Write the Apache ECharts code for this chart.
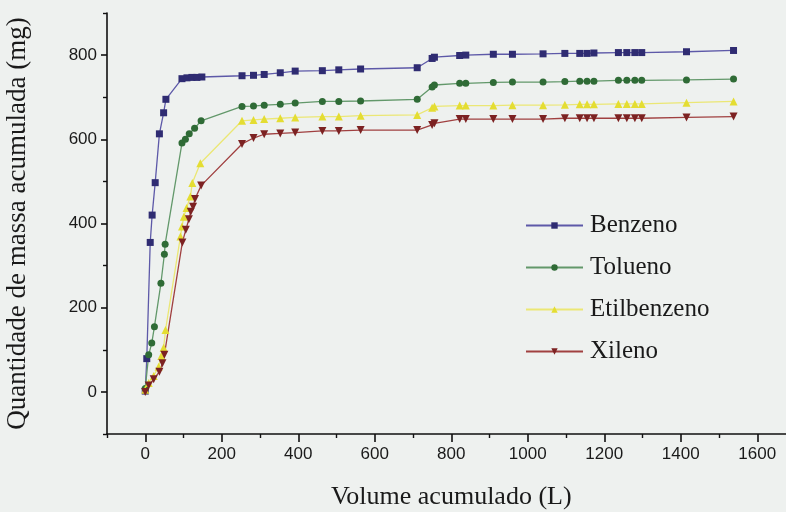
<!DOCTYPE html>
<html>
<head>
<meta charset="utf-8">
<script src="https://cdn.jsdelivr.net/npm/echarts@6/dist/echarts.min.js"></script>
<style>
  html, body { margin: 0; padding: 0; background: #eef1ef; }
  #chart { width: 786px; height: 512px; }
</style>
</head>
<body>
<div id="chart"></div>
<script>
// Shared sampling volumes (L) once the curves have levelled off
const volumeTail = [253, 283, 311, 353, 392, 463, 506, 563, 711, 750, 756, 822, 838, 910, 960, 1040, 1097, 1136, 1155, 1173, 1237, 1259, 1280, 1298, 1415, 1538];

// Early breakthrough phase: volumes (L) and accumulated mass (mg) per compound
const benzenoEarlyVol  = [0, 4, 13, 18, 26, 37, 48, 54, 96, 109, 122, 135, 148];
const benzenoEarlyMass = [2, 79, 355, 420, 497, 613, 663, 695, 744, 746, 747, 747, 748];
const benzenoTailMass  = [751, 752, 754, 758, 762, 763, 765, 767, 770, 792, 795, 799, 800, 802, 802, 803, 804, 804, 804, 805, 806, 806, 806, 806, 808, 811];

const toluenoEarlyVol  = [0, 9, 17, 24, 41, 50, 52, 96, 105, 115, 129, 146];
const toluenoEarlyMass = [8, 88, 116, 155, 258, 327, 351, 591, 600, 613, 626, 644];
const toluenoTailMass  = [678, 679, 681, 683, 686, 690, 690, 691, 695, 724, 729, 733, 733, 735, 736, 736, 737, 738, 738, 738, 740, 740, 740, 740, 741, 743];

const etilEarlyVol  = [0, 9, 22, 35, 42, 48, 53, 92, 96, 101, 108, 118, 123, 144];
const etilEarlyMass = [5, 21, 38, 60, 85, 105, 147, 369, 393, 416, 437, 464, 496, 543];
const etilTailMass  = [644, 646, 648, 650, 652, 654, 654, 656, 658, 675, 678, 680, 680, 680, 681, 681, 682, 683, 683, 683, 684, 684, 684, 684, 687, 690];

const xilenoEarlyVol  = [0, 9, 22, 37, 45, 50, 97, 106, 114, 119, 125, 130, 146];
const xilenoEarlyMass = [0, 15, 30, 48, 68, 88, 355, 385, 410, 428, 440, 458, 490];
const xilenoTailMass  = [589, 603, 612, 614, 616, 620, 620, 622, 622, 634, 638, 648, 648, 648, 648, 648, 650, 650, 650, 650, 650, 650, 650, 650, 652, 654];

// Axis ticks
const xMajorTicks = [0, 200, 400, 600, 800, 1000, 1200, 1400, 1600];
const xMinorTicks = [-100, 100, 300, 500, 700, 900, 1100, 1300, 1500, 1700];
const yMajorTicks = [0, 200, 400, 600, 800];
const yMinorTicks = [-100, 100, 300, 500, 700, 900];

function pairs(earlyVol, earlyMass, tailMass) {
  const out = earlyVol.map((v, i) => [v, earlyMass[i]]);
  volumeTail.forEach((v, i) => out.push([v, tailMass[i]]));
  return out;
}

const serif = '"Liberation Serif", "Times New Roman", serif';
const sans = '"Liberation Sans", Arial, sans-serif';
const plain = (v) => String(v);

function makeSeries(name, data, symbol, size, markColor, lineColor, rotate) {
  return {
    name: name,
    type: 'line',
    data: data,
    symbol: symbol,
    symbolSize: size,
    symbolRotate: rotate || 0,
    showSymbol: true,
    color: markColor,
    itemStyle: { color: markColor, borderWidth: 0 },
    lineStyle: { color: lineColor, width: 1.3 },
    emphasis: { disabled: true },
    animation: false,
    z: 3
  };
}

const chart = echarts.init(document.getElementById('chart'), null, { renderer: 'canvas' });

chart.setOption({
  backgroundColor: '#eef1ef',
  animation: false,
  grid: { left: 107, top: 13, width: 688.5, height: 421, containLabel: false, outerBoundsMode: 'none' },
  legend: {
    orient: 'vertical',
    left: 525,
    top: 213,
    padding: 0,
    itemWidth: 57,
    itemHeight: 8,
    itemGap: 17,
    textStyle: { fontFamily: serif, fontSize: 25, color: '#1a1a1a', lineHeight: 25, padding: [0, 0, 0, 2] },
    data: ['Benzeno', 'Tolueno', 'Etilbenzeno', 'Xileno']
  },
  xAxis: [{
    type: 'value',
    min: -100,
    max: 1700,
    interval: 100,
    position: 'bottom',
    splitLine: { show: false },
    axisLine: { show: true, onZero: false, lineStyle: { color: '#111', width: 1.6 } },
    axisTick: { show: true, inside: false, length: 8, customValues: xMajorTicks, lineStyle: { color: '#111', width: 1.6 } },
    axisLabel: { customValues: xMajorTicks, formatter: plain, margin: 12, fontFamily: sans, fontSize: 17, color: '#1a1a1a' },
    name: 'Volume acumulado (L)',
    nameLocation: 'middle',
    nameGap: 50,
    nameTextStyle: { fontFamily: serif, fontSize: 26, color: '#1a1a1a' }
  }, {
    type: 'value',
    min: -100,
    max: 1700,
    position: 'bottom',
    splitLine: { show: false },
    axisLine: { show: false, onZero: false },
    axisTick: { show: true, inside: false, length: 4, customValues: xMinorTicks, lineStyle: { color: '#111', width: 1.4 } },
    axisLabel: { show: false }
  }],
  yAxis: [{
    type: 'value',
    min: -100,
    max: 900,
    interval: 100,
    position: 'left',
    splitLine: { show: false },
    axisLine: { show: true, onZero: false, lineStyle: { color: '#111', width: 1.6 } },
    axisTick: { show: true, inside: false, length: 6, customValues: yMajorTicks, lineStyle: { color: '#111', width: 1.6 } },
    axisLabel: { customValues: yMajorTicks, formatter: plain, margin: 10, fontFamily: sans, fontSize: 17, color: '#1a1a1a' },
    name: 'Quantidade de massa acumulada (mg)',
    nameLocation: 'middle',
    nameGap: 76,
    nameTextStyle: { fontFamily: serif, fontSize: 27, color: '#1a1a1a' }
  }, {
    type: 'value',
    min: -100,
    max: 900,
    position: 'left',
    splitLine: { show: false },
    axisLine: { show: false, onZero: false },
    axisTick: { show: true, inside: false, length: 4, customValues: yMinorTicks, lineStyle: { color: '#111', width: 1.4 } },
    axisLabel: { show: false }
  }],
  series: [
    makeSeries('Benzeno', pairs(benzenoEarlyVol, benzenoEarlyMass, benzenoTailMass), 'rect', 7, '#2f2c72', '#5d59a8'),
    makeSeries('Tolueno', pairs(toluenoEarlyVol, toluenoEarlyMass, toluenoTailMass), 'circle', 7, '#2f6b36', '#62986a'),
    makeSeries('Etilbenzeno', pairs(etilEarlyVol, etilEarlyMass, etilTailMass), 'triangle', 8, '#e4dd32', '#ebe774'),
    makeSeries('Xileno', pairs(xilenoEarlyVol, xilenoEarlyMass, xilenoTailMass), 'triangle', 8, '#7c2222', '#a04040', 180)
  ]
});
</script>
</body>
</html>
